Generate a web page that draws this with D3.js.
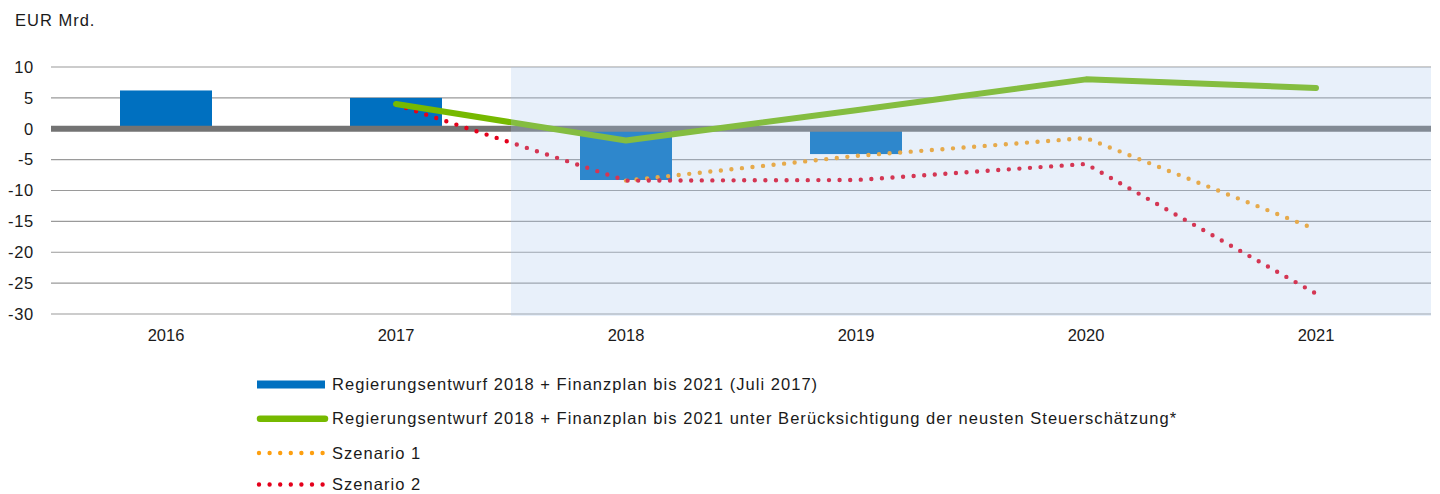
<!DOCTYPE html>
<html>
<head>
<meta charset="utf-8">
<script src="https://cdn.jsdelivr.net/npm/d3@7"></script>
<style>
  body { margin: 0; background: #fff; }
  text { font-family: "Liberation Sans", Arial, sans-serif; fill: #1a1a1a; }
</style>
</head>
<body>
<script>
const w = 1440
const h = 494

const years = ['2016', '2017', '2018', '2019', '2020', '2021']
const yTicks = [10, 5, 0, -5, -10, -15, -20, -25, -30]
const shadedFrom = '2018'

// Regierungsentwurf (Juli 2017) - bars
const entwurf = [6.2, 5.0, -8.3, -4.1, null, null]
// unter Berücksichtigung der neusten Steuerschätzung
const steuer = [null, 4.0, -1.9, 3.0, 8.0, 6.6]
const szenario1 = [null, null, -8.4, -4.4, -1.5, -16.3]
const szenario2 = [null, 3.9, -8.4, -8.3, -5.7, -26.7]

const legendLabels = [
	'Regierungsentwurf 2018 + Finanzplan bis 2021 (Juli 2017)',
	'Regierungsentwurf 2018 + Finanzplan bis 2021 unter Berücksichtigung der neusten Steuerschätzung*',
	'Szenario 1',
	'Szenario 2'
]

const plotLeft = 51
const plotRight = 1431
const plotTop = 67
const plotBottom = 314

const svg = d3.select('body')
	.append('svg')
	.attr('width', w)
	.attr('height', h)

const xScale = d3.scaleBand()
	.domain(years)
	.range([plotLeft, plotRight])

const yScale = d3.scaleLinear()
	.domain([-30, 10])
	.range([plotBottom, plotTop])

// y label
svg.append('text')
	.attr('x', 15)
	.attr('y', 26)
	.attr('font-size', '16.5px')
	.attr('letter-spacing', '1px')
	.text('EUR Mrd.')

// gridlines
svg.append('g')
	.selectAll('line')
	.data(yTicks.filter(d => d !== 0))
	.enter()
	.append('line')
	.attr('x1', plotLeft)
	.attr('x2', plotRight)
	.attr('y1', d => yScale(d))
	.attr('y2', d => yScale(d))
	.attr('stroke', '#9a9a9a')
	.attr('stroke-width', 1.2)

const yAxis = d3.axisLeft(yScale)
	.tickValues(yTicks)
	.tickFormat(d => String(d)) // plain hyphen like the original
	.tickSize(0)
	.tickPadding(0)

svg.append('g')
	.attr('transform', `translate(${plotLeft - 17},0)`)
	.call(yAxis)
	.call(g => g.select('.domain').remove())
	.call(g => g.selectAll('text')
		.attr('font-size', '16.5px')
		.attr('letter-spacing', '0.7px')
		.attr('font-family', '"Liberation Sans", Arial, sans-serif')
		.attr('fill', '#1a1a1a'))

const xAxis = d3.axisBottom(xScale)
	.tickSize(0)
	.tickPadding(0)

svg.append('g')
	.attr('transform', `translate(0,${plotBottom + 15})`)
	.call(xAxis)
	.call(g => g.select('.domain').remove())
	.call(g => g.selectAll('text')
		.attr('font-size', '16.5px')
		.attr('font-family', '"Liberation Sans", Arial, sans-serif')
		.attr('fill', '#1a1a1a'))

// bars
const barW = xScale.bandwidth() * 0.4
svg.append('g')
	.selectAll('rect')
	.data(years.map((y, i) => ({ year: y, v: entwurf[i] })).filter(d => d.v !== null))
	.enter()
	.append('rect')
	.attr('x', d => xScale(d.year) + (xScale.bandwidth() - barW) / 2)
	.attr('y', d => yScale(Math.max(0, d.v)))
	.attr('width', barW)
	.attr('height', d => Math.abs(yScale(d.v) - yScale(0)))
	.attr('fill', '#0070c0')

// zero line
svg.append('line')
	.attr('x1', plotLeft)
	.attr('x2', plotRight)
	.attr('y1', yScale(0))
	.attr('y2', yScale(0))
	.attr('stroke', '#737373')
	.attr('stroke-width', 6)

const lineFunction = d3.line()
	.x(d => xScale(d.year) + xScale.bandwidth() / 2)
	.y(d => yScale(d.v))
	.curve(d3.curveLinear)

const toPts = arr => years.map((y, i) => ({ year: y, v: arr[i] })).filter(d => d.v !== null)

svg.append('path')
	.attr('d', lineFunction(toPts(szenario1)))
	.attr('stroke', '#fd9f10')
	.attr('stroke-width', 4.4)
	.attr('stroke-linecap', 'round')
	.attr('stroke-dasharray', '0 10.6')
	.attr('fill', 'none')

svg.append('path')
	.attr('d', lineFunction(toPts(szenario2)))
	.attr('stroke', '#e4001b')
	.attr('stroke-width', 4.4)
	.attr('stroke-linecap', 'round')
	.attr('stroke-dasharray', '0 10.6')
	.attr('fill', 'none')

svg.append('path')
	.attr('d', lineFunction(toPts(steuer)))
	.attr('stroke', '#76b900')
	.attr('stroke-width', 6)
	.attr('stroke-linecap', 'round')
	.attr('stroke-linejoin', 'round')
	.attr('fill', 'none')

// forecast shading (lies over everything like in the original)
svg.append('rect')
	.attr('x', xScale(shadedFrom))
	.attr('y', plotTop)
	.attr('width', plotRight - xScale(shadedFrom))
	.attr('height', plotBottom - plotTop + 2)
	.attr('fill', 'rgb(170,201,236)')
	.attr('opacity', 0.27)

// legend
const legend = svg.append('g')
const baseY = [390, 424.3, 458.5, 490]
const rowY = baseY.map(b => b - 5.5)
const lx1 = 257
const lx2 = 325

legend.append('rect')
	.attr('x', lx1)
	.attr('y', rowY[0] - 4)
	.attr('width', lx2 - lx1)
	.attr('height', 8)
	.attr('fill', '#0070c0')

legend.append('line')
	.attr('x1', lx1 + 3).attr('x2', lx2)
	.attr('y1', rowY[1]).attr('y2', rowY[1])
	.attr('stroke', '#76b900')
	.attr('stroke-width', 6.5)
	.attr('stroke-linecap', 'round')

legend.append('line')
	.attr('x1', lx1 + 2).attr('x2', lx2)
	.attr('y1', rowY[2]).attr('y2', rowY[2])
	.attr('stroke', '#fd9f10')
	.attr('stroke-width', 4.4)
	.attr('stroke-linecap', 'round')
	.attr('stroke-dasharray', '0 10.6')

legend.append('line')
	.attr('x1', lx1 + 2).attr('x2', lx2)
	.attr('y1', rowY[3]).attr('y2', rowY[3])
	.attr('stroke', '#e4001b')
	.attr('stroke-width', 4.4)
	.attr('stroke-linecap', 'round')
	.attr('stroke-dasharray', '0 10.6')

legend.selectAll('text')
	.data(legendLabels)
	.enter()
	.append('text')
	.attr('x', 332)
	.attr('y', (d, i) => baseY[i])
	.attr('font-size', '16.5px')
	.attr('letter-spacing', '1.04px')
	.text(d => d)
</script>
</body>
</html>
